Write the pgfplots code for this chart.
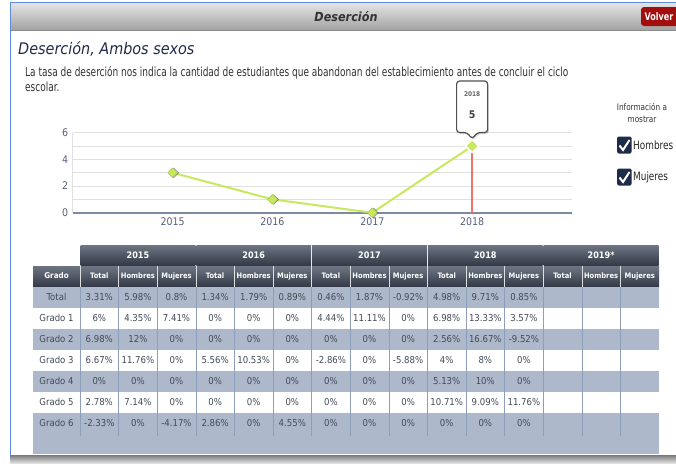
\documentclass[border=0pt]{standalone}
\usepackage{pgfplots}
\pgfplotsset{compat=1.18}
\usepackage{fontspec}
\setmainfont{DejaVu Sans Condensed}
\definecolor{hdrTop}{HTML}{E4E4E4}
\definecolor{hdrBot}{HTML}{A2A2A2}
\definecolor{frameblue}{HTML}{5B8BD9}
\definecolor{volverred}{HTML}{A30D0D}
\definecolor{titlenavy}{HTML}{1F2B4A}
\definecolor{desctext}{HTML}{333333}
\definecolor{gridgray}{HTML}{E0E0E0}
\definecolor{axisslate}{HTML}{7D8AA3}
\definecolor{ticktext}{HTML}{55607A}
\definecolor{linegreen}{HTML}{C6E95D}
\definecolor{redline}{HTML}{F0726A}
\definecolor{tipborder}{HTML}{505050}
\definecolor{thTop}{HTML}{6E7684}
\definecolor{thBot}{HTML}{343A46}
\definecolor{rowgray}{HTML}{ADB9CA}
\definecolor{sepblue}{HTML}{8E9DBA}
\definecolor{celltext}{HTML}{434A57}
\definecolor{cbnavy}{HTML}{1E2B4A}
\begin{document}
\begin{tikzpicture}
\useasboundingbox (0,0) rectangle (676pt,-463pt);
\fill[white] (0,0) rectangle (676pt,-463pt);
\begin{scope}[x=1pt,y=-1pt]
  % header bar
  \shade[top color=hdrTop, bottom color=hdrBot] (10.5,3) rectangle (676,30);
  \draw[black!45, line width=0.6pt] (10.5,30) -- (676,30);
  \draw[frameblue, line width=1pt] (10,460) -- (10,2.5) -- (676,2.5);
  \node[font=\bfseries\itshape\fontsize{12.5}{15}\selectfont, text=black!80] at (346,17) {Deserción};
  \fill[volverred, rounded corners=3pt] (641,7) rectangle (690,26);
  \node[anchor=west, font=\bfseries\fontsize{10.5}{13}\selectfont, text=white, inner sep=0pt] at (644.5,16.5) {\scalebox{0.85}[1]{Volver}};
  % title & description
  \node[anchor=base west, inner sep=0pt, font=\itshape\fontsize{16}{18}\selectfont, text=titlenavy] at (18,54) {Deserción, Ambos sexos};
  \node[anchor=base west, inner sep=0pt, font=\fontsize{12.5}{14}\selectfont, text=desctext] at (25,76) {\scalebox{0.8}[1]{La tasa de deserción nos indica la cantidad de estudiantes que abandonan del establecimiento antes de concluir el ciclo}};
  \node[anchor=base west, inner sep=0pt, font=\fontsize{12.5}{14}\selectfont, text=desctext] at (25,91) {\scalebox{0.8}[1]{escolar.}};
  % right panel
  \node[font=\fontsize{9}{10}\selectfont, text=desctext, inner sep=0pt] at (642,107) {\scalebox{0.9}[1]{Información a}};
  \node[font=\fontsize{9}{10}\selectfont, text=desctext, inner sep=0pt] at (642,119) {\scalebox{0.9}[1]{mostrar}};
  \foreach \yy/\lab in {145/Hombres,177/Mujeres}{
    \fill[cbnavy, rounded corners=1.5pt] (617,\yy-8.5) rectangle (631.5,\yy+8.5);
    \draw[white, line width=2pt] (619.5,\yy+0.5) -- (623,\yy+5) -- (629.5,\yy-5);
    \node[anchor=west, inner sep=0pt, font=\fontsize{11.5}{14}\selectfont, text=black!85] at (633,\yy) {\scalebox{0.86}[1]{\lab}};
  }
  % table headers
  \foreach \g/\yr in {0/2015,1/2016,2/2017,3/2018,4/2019*}{
    \pgfmathsetmacro\xa{80+115.8*\g}
    \shade[top color=thTop, bottom color=thBot] (\xa+0.5,245) rectangle (\xa+115.3,265);
    \node[font=\bfseries\fontsize{9}{10}\selectfont, text=white] at (\xa+57.9,255) {\yr};
  }
  \shade[top color=thTop, bottom color=thBot] (33,266) rectangle (659,286.5);
  \node[font=\bfseries\fontsize{8}{10}\selectfont, text=white] at (56.5,276) {Grado};
  \foreach \k in {0,...,14}{
    \pgfmathsetmacro\xa{80+38.6*\k}
    \draw[white!75!gray, line width=0.5pt] (\xa,266) -- (\xa,286.5);
  }
  \foreach \k in {0,...,4}{
    \foreach \lab [count=\m from 0] in {Total,Hombres,Mujeres}{
      \pgfmathsetmacro\xc{80+38.6*(3*\k+\m)+19.3}
      \node[font=\bfseries\fontsize{7.5}{9}\selectfont, text=white] at (\xc,276) {\lab};
    }
  }
  % table body
  \foreach \i in {0,2,4,6}{
    \fill[rowgray] (33,286.5+21*\i) rectangle (659,307.5+21*\i);
  }
  \fill[rowgray] (33,433.5) rectangle (659,454);
  \foreach \k in {0,...,14}{
    \pgfmathsetmacro\xa{80+38.6*\k}
    \draw[sepblue, line width=0.6pt] (\xa,286.5) -- (\xa,436);
  }
  \foreach \row [count=\i from 0] in {
    {Total,3.31\%,5.98\%,0.8\%,1.34\%,1.79\%,0.89\%,0.46\%,1.87\%,-0.92\%,4.98\%,9.71\%,0.85\%},
    {Grado 1,6\%,4.35\%,7.41\%,0\%,0\%,0\%,4.44\%,11.11\%,0\%,6.98\%,13.33\%,3.57\%},
    {Grado 2,6.98\%,12\%,0\%,0\%,0\%,0\%,0\%,0\%,0\%,2.56\%,16.67\%,-9.52\%},
    {Grado 3,6.67\%,11.76\%,0\%,5.56\%,10.53\%,0\%,-2.86\%,0\%,-5.88\%,4\%,8\%,0\%},
    {Grado 4,0\%,0\%,0\%,0\%,0\%,0\%,0\%,0\%,0\%,5.13\%,10\%,0\%},
    {Grado 5,2.78\%,7.14\%,0\%,0\%,0\%,0\%,0\%,0\%,0\%,10.71\%,9.09\%,11.76\%},
    {Grado 6,-2.33\%,0\%,-4.17\%,2.86\%,0\%,4.55\%,0\%,0\%,0\%,0\%,0\%,0\%}}{
    \foreach \v [count=\j from 0] in \row {
      \ifnum\j=0
        \pgfmathsetmacro\xc{56.5}
      \else
        \pgfmathsetmacro\xc{80+38.6*(\j-1)+19.3}
      \fi
      \node[font=\fontsize{9.5}{11}\selectfont, text=celltext] at (\xc,297+21*\i) {\v};
    }
  }
  % footer bar
  \shade[top color=black!50, bottom color=black!12] (10,455.5) rectangle (676,463);
\end{scope}
\begin{axis}[
  at={(72.7pt,-212.7pt)}, anchor=south west,
  width=499.3pt, height=80pt, scale only axis,
  xmin=2014, xmax=2019, ymin=0, ymax=6,
  axis x line=bottom, axis y line=left,
  axis line style={draw=none,-},
  xtick={2015,2016,2017,2018}, xticklabels={2015,2016,2017,2018},
  ytick={0,2,4,6}, minor ytick={1,3,5},
  ymajorgrids, yminorgrids,
  major grid style={gridgray, line width=0.8pt},
  minor grid style={gridgray, line width=0.8pt},
  major tick length=0pt, minor tick length=0pt,
  tick style={draw=none},
  ticklabel style={font=\fontsize{10.5}{12}\selectfont, text=ticktext},
  /pgf/number format/assume math mode=true,
  xticklabel style={yshift=-1pt},
  yticklabel style={xshift=-1pt},
  clip=false,
]
\draw[gridgray, line width=1pt] (rel axis cs:0,0) -- (rel axis cs:0,1);
\draw[axisslate, line width=1.6pt] (rel axis cs:0,0) -- (rel axis cs:1,0);
\addplot[redline, line width=1.5pt] coordinates {(2018,0) (2018,5)};
\addplot[only marks, mark=square*, mark size=3.4pt, mark options={rotate=45, fill=black!40, draw=none, opacity=0.4, xshift=0.8pt, yshift=-1pt}] coordinates {(2015,3) (2016,1) (2017,0)};
\addplot[linegreen, line width=2pt, mark=square*, mark size=3.4pt, mark options={rotate=45, fill=linegreen, draw=linegreen!85!black, line width=0.5pt}] coordinates {(2015,3) (2016,1) (2017,0) (2018,5)};
\addplot[only marks, mark=square*, mark size=4.6pt, mark options={rotate=45, fill=linegreen, draw=white, line width=1.3pt}] coordinates {(2018,5)};
\coordinate (P) at (axis cs:2018,5);
\end{axis}
\begin{scope}[shift={(P)}, x=1pt, y=1pt]
  \fill[black, opacity=0.18, rounded corners=3pt] (1.2,5.5) -- (-3.8,12) -- (-14.3,12) -- (-14.3,63.5) -- (16.7,63.5) -- (16.7,12) -- (6.2,12) -- cycle;
  \draw[fill=white, draw=tipborder, line width=1.2pt, rounded corners=3pt] (0,7) -- (-5,13.5) -- (-15.5,13.5) -- (-15.5,65) -- (15.5,65) -- (15.5,13.5) -- (5,13.5) -- cycle;
  \node[font=\bfseries\fontsize{6.5}{7}\selectfont, text=black!60] at (0,51.5) {2018};
  \node[font=\bfseries\fontsize{10.5}{12}\selectfont, text=black!75] at (0,31) {5};
\end{scope}
\end{tikzpicture}
\end{document}
